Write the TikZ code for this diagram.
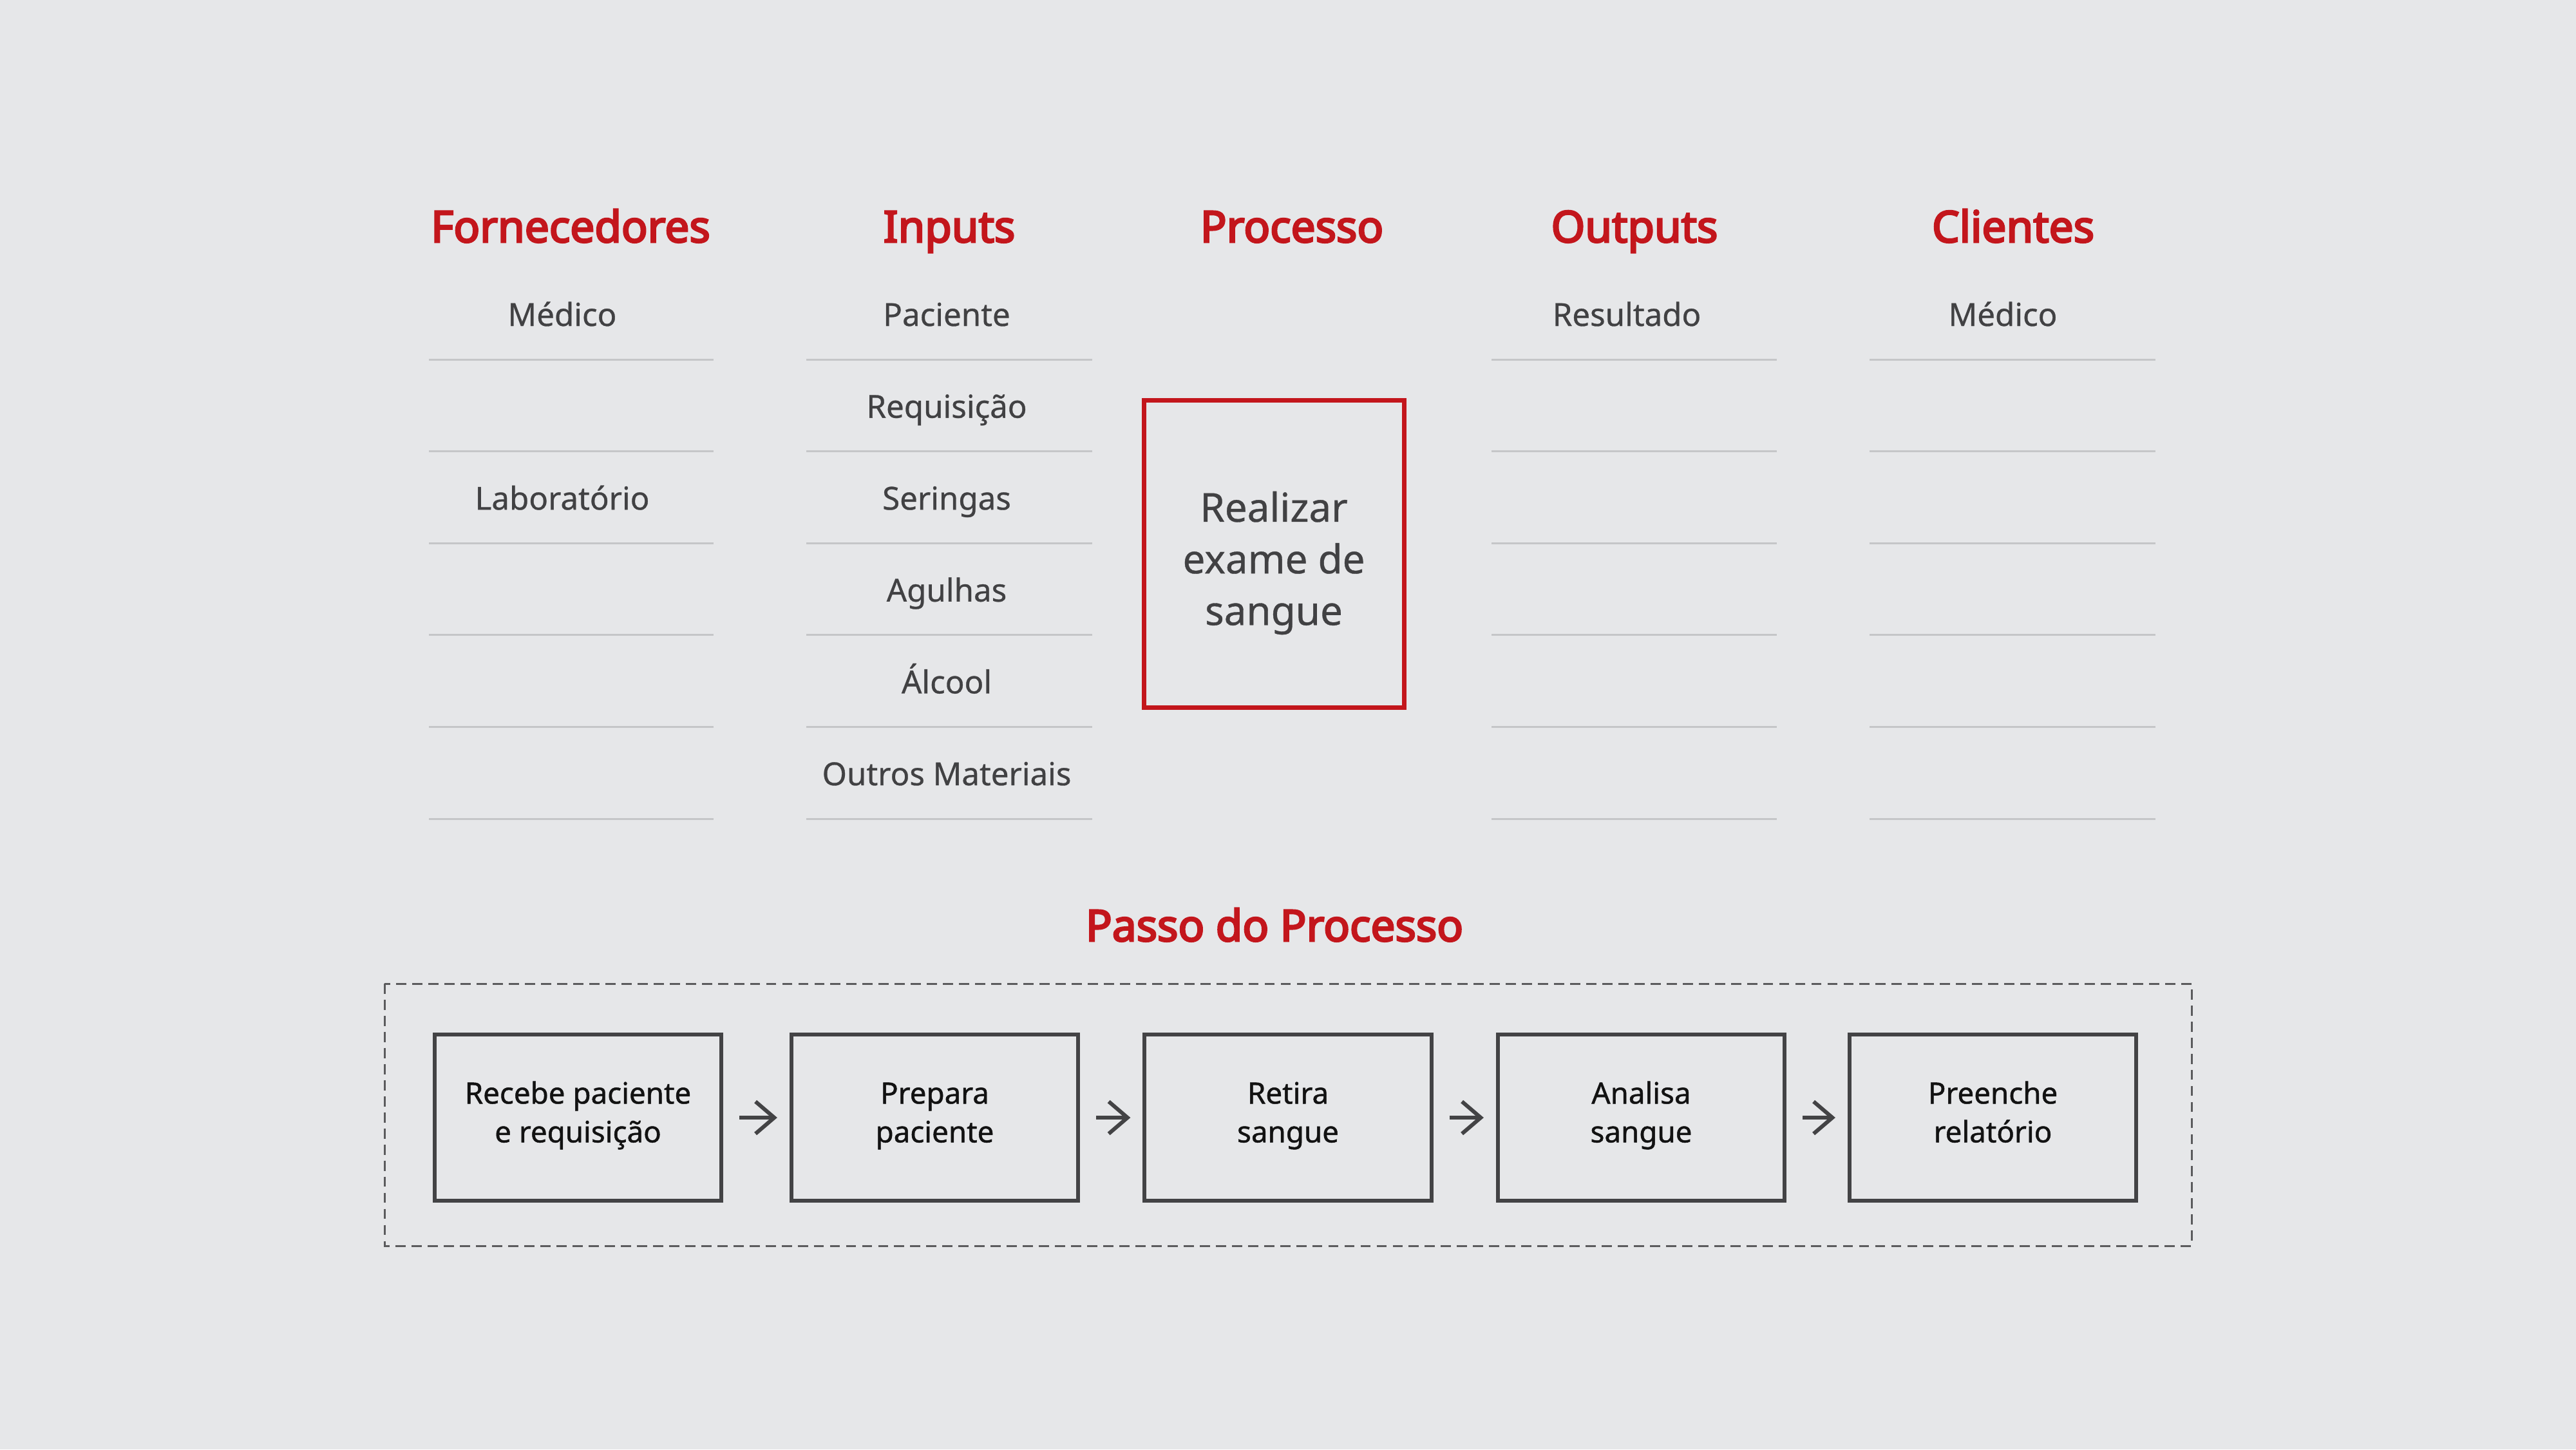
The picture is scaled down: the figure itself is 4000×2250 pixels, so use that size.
\documentclass[tikz,border=0pt]{standalone}
\usepackage{fontspec}
\setmainfont{Noto Sans}
\newfontfamily\headfont{Noto Sans}[FakeBold=4]
\newfontfamily\itemfont{Noto Sans}[FakeBold=0.6]
\newfontfamily\stepfont{Noto Sans}[FakeBold=1.0]
\usetikzlibrary{arrows.meta}
\definecolor{bg}{HTML}{E6E7E9}
\definecolor{rulegray}{HTML}{C5C6C8}
\definecolor{accent}{HTML}{C3161C}
\definecolor{txtgray}{HTML}{414143}
\definecolor{boxgray}{HTML}{434345}
\definecolor{dashgray}{HTML}{5B5B5D}
\newcommand{\toprow}{\vphantom{lb}}
\tikzset{
  header/.style={anchor=base, inner sep=0pt, text=accent, font=\headfont\fontsize{19.2}{22}\selectfont},
  item/.style={anchor=base, inner sep=0pt, text=txtgray, font=\itemfont\fontsize{14}{17}\selectfont},
  rowrule/.style={draw=rulegray, line width=0.85pt},
  procbox/.style={draw=accent, line width=1.9pt, minimum width=4.04cm, minimum height=4.77cm, inner sep=0pt},
  proctext/.style={inner sep=0pt, align=center, text=txtgray, font=\itemfont\fontsize{17.6}{22.8}\selectfont},
  stepbox/.style={draw=boxgray, line width=1.7pt, minimum width=4.45cm, minimum height=2.58cm, inner sep=0pt, align=center, text=black!93, font=\stepfont\fontsize{13}{17.1}\selectfont},
  steparrow/.style={draw=boxgray, line width=1.7pt, -{Straight Barb[length=8.3pt,width=14.2pt]}, shorten <=7.1pt, shorten >=5.4pt},
  frame/.style={draw=dashgray, line width=0.85pt, dash pattern=on 4.5pt off 2.6pt}
}
\begin{document}
\begin{tikzpicture}[x=0.01cm,y=-0.01cm]
\fill[bg] (0,0) rectangle (4000,2250);
\useasboundingbox (0,0) rectangle (4000,2250);

% headers
\node[header] (hF) at (886,376) {Fornecedores};
\node[header] (hI) at (1474,376) {Inputs};
\node[header] (hP) at (2006,376) {Processo};
\node[header] (hO) at (2538,376) {Outputs};
\node[header] (hC) at (3126,376) {Clientes};

% row rules
\foreach \k in {0,...,5}{
  \draw[rowrule] (666,558+142.6*\k) -- (1108,558+142.6*\k);
  \draw[rowrule] (1252,558+142.6*\k) -- (1696,558+142.6*\k);
  \draw[rowrule] (2316,558+142.6*\k) -- (2759,558+142.6*\k);
  \draw[rowrule] (2903,558+142.6*\k) -- (3347,558+142.6*\k);
}

% items
\node[item] (f1) at (873,506) {Médico};
\node[item] (f3) at (873,791.2) {Laboratório};
\node[item] (i1) at (1470,506) {Paciente};
\node[item] (i2) at (1470,648.6) {Requisição};
\node[item] (i3) at (1470,791.2) {Seringas};
\node[item] (i4) at (1470,933.8) {Agulhas};
\node[item] (i5) at (1470,1076.4) {Álcool};
\node[item] (i6) at (1470,1219) {Outros Materiais};
\node[item] (o1) at (2526,506) {Resultado};
\node[item] (c1) at (3110,506) {Médico};

% process box
\node[procbox] (proc) at (1978.5,860) {};
\node[proctext] (proctxt) at (1978,874) {Realizar\\exame de\\sangue};

% steps
\node[header] (hS) at (1979,1461) {Passo do Processo};
\draw[frame] (597,1527) rectangle (3403,1934);

\node[stepbox] (s1) at (897.5,1735) {\toprow Recebe paciente\\e requisição\strut};
\node[stepbox] (s2) at (1451.5,1735) {\toprow Prepara\\paciente\strut};
\node[stepbox] (s3) at (2000,1735) {\toprow Retira\\sangue\strut};
\node[stepbox] (s4) at (2548.5,1735) {\toprow Analisa\\sangue\strut};
\node[stepbox] (s5) at (3094.5,1735) {\toprow Preenche\\relatório\strut};

\draw[steparrow] (s1) -- (s2);
\draw[steparrow] (s2) -- (s3);
\draw[steparrow] (s3) -- (s4);
\draw[steparrow] (s4) -- (s5);
\end{tikzpicture}
\end{document}
